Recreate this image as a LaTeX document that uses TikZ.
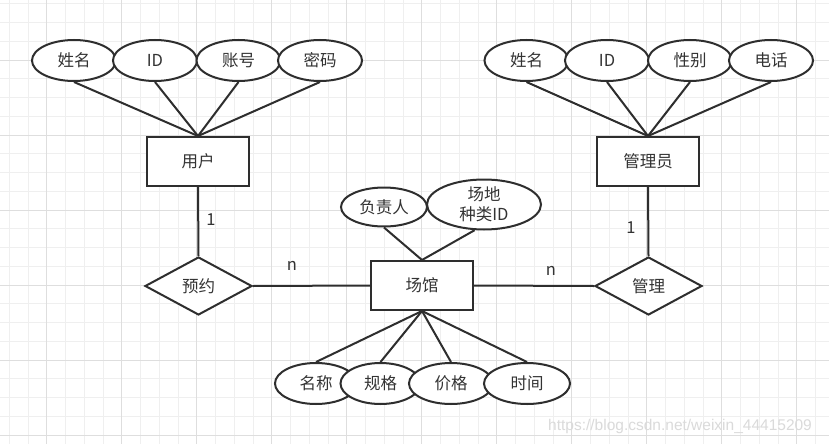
\documentclass[tikz,border=0pt]{standalone}
\usepackage{fontspec}
\setmainfont{Noto Sans CJK SC}
\newfontfamily\wmfont{Liberation Sans}
\usetikzlibrary{shapes.geometric}
\definecolor{lc}{HTML}{2E2E2E}
\definecolor{tc}{HTML}{333333}
\definecolor{gminor}{HTML}{EFEFEF}
\definecolor{gmajor}{HTML}{DEDEDE}
\definecolor{wmc}{HTML}{DADADA}
\tikzset{
  shp/.style={draw=lc, fill=white, line width=2pt, text=tc, font=\fontsize{16.5}{20}\selectfont, inner sep=0pt},
  attr/.style={shp, ellipse, minimum width=84pt, minimum height=41pt},
  ent/.style={shp, rectangle, minimum width=102pt, minimum height=49pt},
  rel/.style={shp, diamond, minimum width=107pt, minimum height=58pt},
  conn/.style={draw=lc, line width=2pt},
  card/.style={text=tc, font=\fontsize{16.5}{20}\selectfont, inner sep=0pt},
  gmin/.style={draw=gminor, line width=0.9pt},
  gmaj/.style={draw=gmajor, line width=0.9pt}
}
\begin{document}
\begin{tikzpicture}[x=1pt,y=-1pt]
\useasboundingbox (0,0) rectangle (829,444);
\fill[white] (0,0) rectangle (829,444);
% grid
\foreach \i in {0,...,44} {\pgfmathsetmacro\xx{9.2+18.75*\i}\draw[gmin] (\xx,0) -- (\xx,444);}
\foreach \i in {0,...,23} {\pgfmathsetmacro\yy{3.75+18.75*\i}\draw[gmin] (0,\yy) -- (829,\yy);}
\foreach \i in {0,...,10} {\pgfmathsetmacro\xx{46.7+75*\i}\draw[gmaj] (\xx,0) -- (\xx,444);}
\foreach \i in {0,...,5} {\pgfmathsetmacro\yy{60+75*\i}\draw[gmaj] (0,\yy) -- (829,\yy);}

% top-left attributes
\node[attr] (a1) at (74,60.5) {姓名};
\node[attr] (a2) at (155,60.5) {ID};
\node[attr] (a3) at (238.5,60.5) {账号};
\node[attr] (a4) at (320,60.5) {密码};
\node[ent] (user) at (198,161.5) {用户};

% top-right attributes
\node[attr] (b1) at (526.5,60.5) {姓名};
\node[attr] (b2) at (607,60.5) {ID};
\node[attr] (b3) at (690,60.5) {性别};
\node[attr] (b4) at (771,60.5) {电话};
\node[ent] (admin) at (648,161.5) {管理员};

% relations and venue
\node[rel] (book) at (198.5,286) {预约};
\node[ent] (venue) at (422,285.5) {场馆};
\node[rel] (manage) at (648.5,286) {管理};

% venue attributes
\node[attr, minimum width=86pt, minimum height=39pt] (c1) at (384,207) {负责人};
\node[attr, minimum width=114pt, minimum height=50pt, align=center] (c2) at (484,204.5) {场地\\种类ID};
\node[attr, minimum width=82pt] (d1) at (316,383.5) {名称};
\node[attr, minimum width=80pt] (d2) at (380.5,383.5) {规格};
\node[attr, minimum width=84pt] (d3) at (451,383.5) {价格};
\node[attr, minimum width=86pt] (d4) at (527,383.5) {时间};

% connectors
\foreach \n in {a1,a2,a3,a4} {\draw[conn] (\n.south) -- (user.north);}
\foreach \n in {b1,b2,b3,b4} {\draw[conn] (\n.south) -- (admin.north);}
\foreach \n in {d1,d2,d3,d4} {\draw[conn] (venue.south) -- (\n.north);}
\draw[conn] (c1.south) -- (venue.north);
\draw[conn] (c2.250) -- (venue.north);
\draw[conn] (user.south) -- (book.north);
\draw[conn] (book.east) -- (venue.west);
\draw[conn] (venue.east) -- (manage.west);
\draw[conn] (admin.south) -- (manage.north);

% cardinalities
\node[card] (k1) at (211,220) {1};
\node[card] (k2) at (631,228) {1};
\node[card] (k3) at (292,266) {n};
\node[card] (k4) at (551,270.5) {n};

% watermark
\node[anchor=base west, inner sep=0pt, text=wmc, font=\wmfont\fontsize{15.5}{18}\selectfont] (wm) at (548,430.7) {https://blog.csdn.net/weixin\_44415209};
\end{tikzpicture}
\end{document}
